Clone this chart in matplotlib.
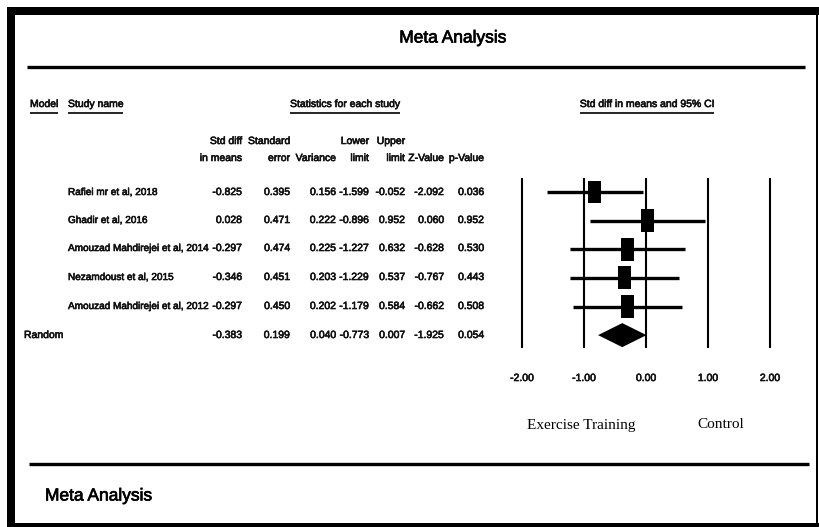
import matplotlib
matplotlib.use("Agg")
import matplotlib.pyplot as plt
import matplotlib.patheffects as pe
from matplotlib.patches import Rectangle, Polygon

plt.rcParams["axes.unicode_minus"] = False

SANS = ["Liberation Sans", "DejaVu Sans"]
SERIF = ["Liberation Serif", "DejaVu Serif"]

studies = [
    "Rafiei mr et al, 2018",
    "Ghadir et al, 2016",
    "Amouzad Mahdirejei et al, 2014",
    "Nezamdoust et al, 2015",
    "Amouzad Mahdirejei et al, 2012",
]
std_diff = [-0.825, 0.028, -0.297, -0.346, -0.297]
std_err = [0.395, 0.471, 0.474, 0.451, 0.450]
variance = [0.156, 0.222, 0.225, 0.203, 0.202]
lower = [-1.599, -0.896, -1.227, -1.229, -1.179]
upper = [-0.052, 0.952, 0.632, 0.537, 0.584]
z_value = [-2.092, 0.060, -0.628, -0.767, -0.662]
p_value = [0.036, 0.952, 0.530, 0.443, 0.508]

pooled_label = "Random"
pooled = {"diff": -0.383, "se": 0.199, "var": 0.040, "lo": -0.773,
          "hi": 0.007, "z": -1.925, "p": 0.054}

ticks = [-2.0, -1.0, 0.0, 1.0, 2.0]

# slightly heavier strokes so the small table text reads like a bold face
heavy = [pe.withStroke(linewidth=0.45, foreground="#111111")]

fig = plt.figure(figsize=(8.19, 5.27), dpi=100)

# pixel-space canvas for the frame and the text table
frame = fig.add_axes([0, 0, 1, 1])
frame.set_xlim(0, 819)
frame.set_ylim(527, 0)
frame.axis("off")

# borders
frame.add_patch(Rectangle((7, 7), 8, 520, color="black", lw=0))
frame.add_patch(Rectangle((7, 7), 812, 8, color="black", lw=0))
frame.add_patch(Rectangle((816, 7), 2, 520, color="black", lw=0))
frame.add_patch(Rectangle((7, 523), 812, 4, color="black", lw=0))
frame.plot([27, 805], [67, 67], color="black", lw=2.4, solid_capstyle="butt")
frame.plot([29, 809], [464, 464], color="black", lw=2.4, solid_capstyle="butt")

title_fx = [pe.withStroke(linewidth=0.5, foreground="black")]
frame.text(453, 38, "Meta Analysis", family=SANS, fontsize=12.5,
           ha="center", va="center", path_effects=title_fx)
frame.text(45, 496, "Meta Analysis", family=SANS, fontsize=12.5,
           ha="left", va="center", path_effects=title_fx)

underlined = []
kw = dict(family=SANS, fontsize=7.5, va="center", color="#111111",
          path_effects=heavy)
underlined.append(frame.text(30, 104, "Model", ha="left", **kw))
underlined.append(frame.text(68, 104, "Study name", ha="left", **kw))
underlined.append(frame.text(345, 104, "Statistics for each study", ha="center", **kw))
underlined.append(frame.text(647, 104, "Std diff in means and 95% CI", ha="center", **kw))

col_right = [242, 290, 336, 369, 405, 444, 484]
head_top = ["Std diff", "Standard", "", "Lower", "Upper", "", ""]
head_bot = ["in means", "error", "Variance", "limit", "limit", "Z-Value", "p-Value"]
for x, t, b in zip(col_right, head_top, head_bot):
    frame.text(x, 141, t, ha="right", **kw)
    frame.text(x, 158, b, ha="right", **kw)

name_kw = dict(kw, fontsize=7.2)
row_y = [192, 220, 248, 277, 306]
for i, name in enumerate(studies):
    vals = [std_diff[i], std_err[i], variance[i], lower[i], upper[i],
            z_value[i], p_value[i]]
    frame.text(68, row_y[i], name, ha="left", **name_kw)
    for x, v in zip(col_right, vals):
        frame.text(x, row_y[i], f"{v:.3f}", ha="right", **kw)

pooled_vals = [pooled[k] for k in ("diff", "se", "var", "lo", "hi", "z", "p")]
frame.text(24, 335, pooled_label, ha="left", **kw)
for x, v in zip(col_right, pooled_vals):
    frame.text(x, 335, f"{v:.3f}", ha="right", **kw)

frame.text(581, 425, "Exercise Training", family=SERIF, fontsize=11,
           ha="center", va="center")
frame.text(721, 425, "Control", family=SERIF, fontsize=11,
           ha="center", va="center")

# forest plot
ax = fig.add_axes([491 / 819, 1 - 348 / 527, 310 / 819, 170 / 527])
ax.set_xlim(-2.5, 2.5)
ax.set_ylim(5.45, -0.49)
for s in ax.spines.values():
    s.set_visible(False)
ax.set_yticks([])
ax.set_xticks(ticks)
ax.set_xticklabels([f"{t:.2f}" for t in ticks], family=SANS,
                   fontsize=7.5, color="#111111")
for lab in ax.get_xticklabels():
    lab.set_path_effects(heavy)
ax.tick_params(axis="x", length=0, pad=18)
for t in ticks:
    ax.axvline(t, color="black", lw=1.5)

for i in range(len(studies)):
    ax.plot([lower[i], upper[i]], [i, i], color="black", lw=2.4,
            solid_capstyle="butt")
    ax.add_patch(Rectangle((std_diff[i] - 0.105, i - 0.4), 0.21, 0.8,
                           color="black", lw=0))

k = len(studies)
ax.add_patch(Polygon([(pooled["lo"], k), (pooled["diff"], k - 0.42),
                      (pooled["hi"], k), (pooled["diff"], k + 0.42)],
                     closed=True, color="black", lw=0))

# underline the section headings
fig.canvas.draw()
inv = frame.transData.inverted()
for t in underlined:
    bb = t.get_window_extent()
    (x0, _), (x1, _) = inv.transform([(bb.x0, bb.y0), (bb.x1, bb.y1)])
    frame.plot([x0, x1], [113, 113], color="black", lw=1.2,
               solid_capstyle="butt")

fig.savefig("out.png", dpi=100)
